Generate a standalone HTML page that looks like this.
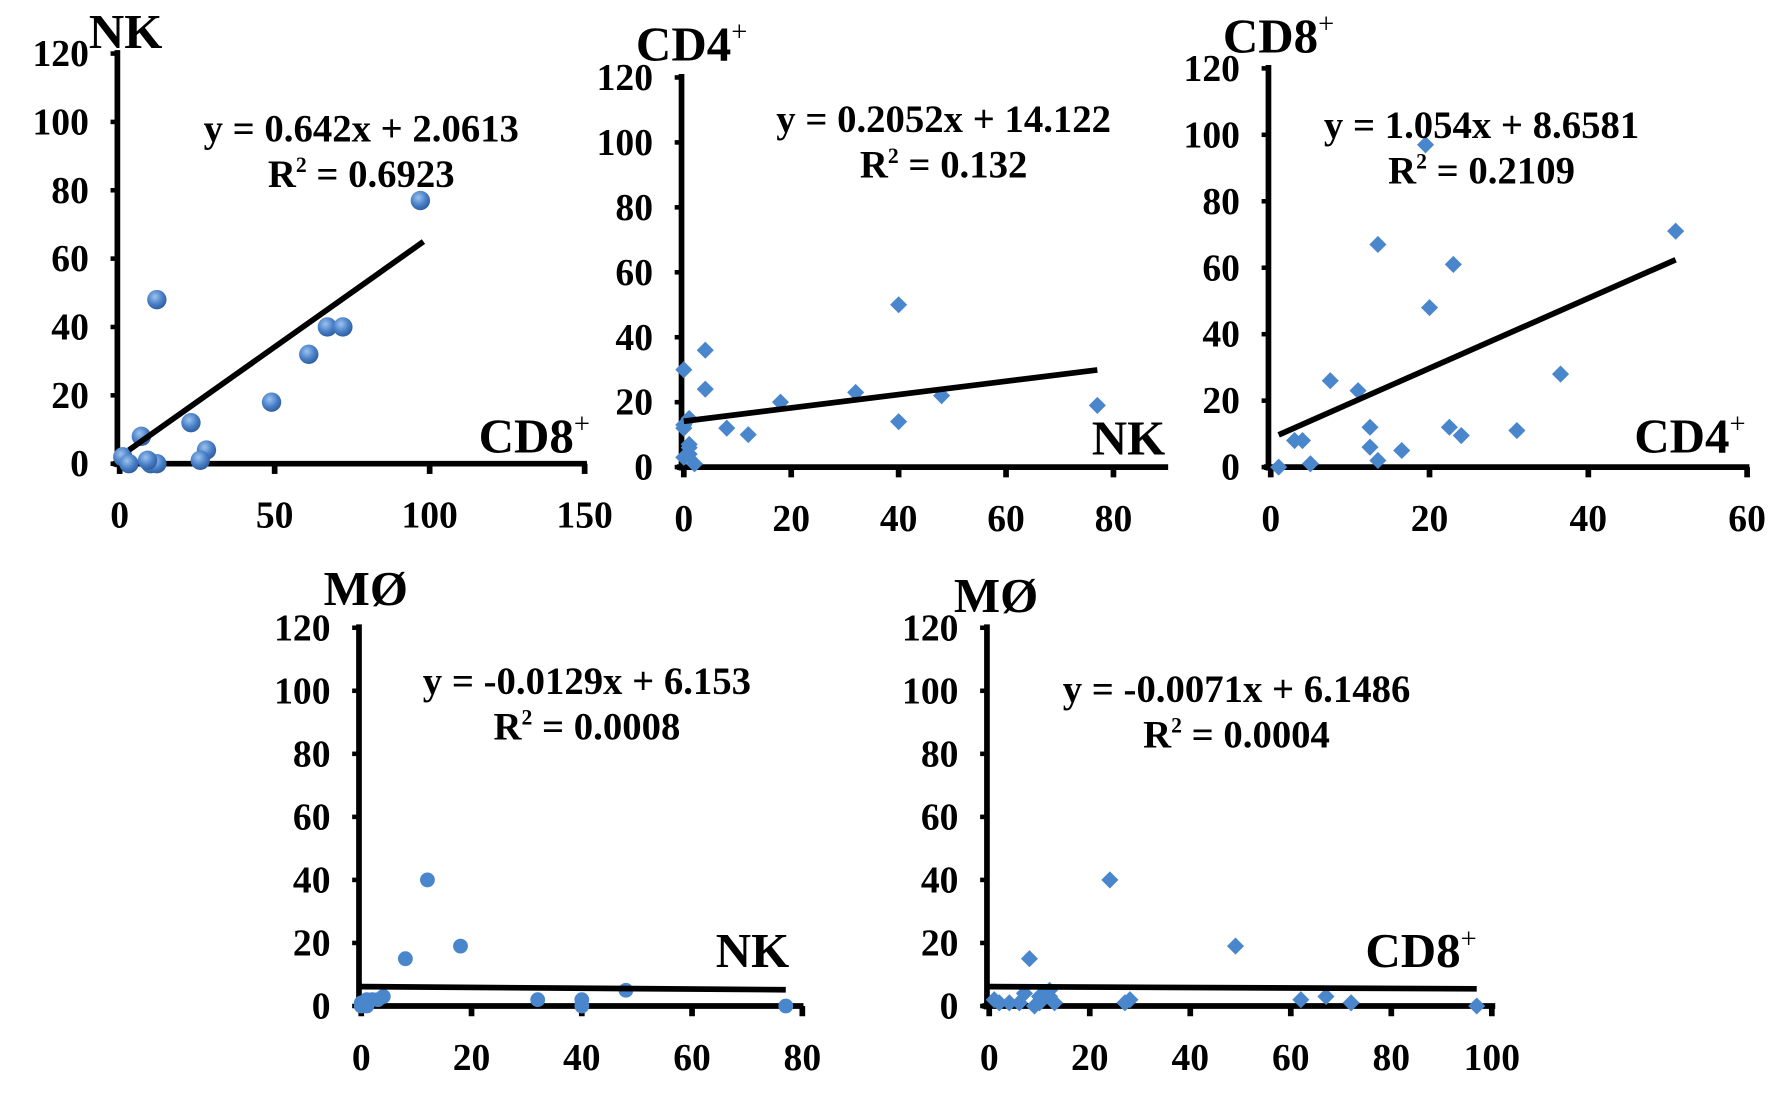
<!DOCTYPE html>
<html><head><meta charset="utf-8"><style>
html,body{margin:0;padding:0;background:#fff;}
svg{display:block;}
text{font-family:"Liberation Serif",serif;font-weight:bold;fill:#000;}
</style></head><body>
<svg id="fig" width="1787" height="1096" viewBox="0 0 1568 962" preserveAspectRatio="none" xmlns="http://www.w3.org/2000/svg">
<defs>
<radialGradient id="ball" cx="40%" cy="35%" r="65%"><stop offset="0" stop-color="#9cc3ee"/><stop offset="0.6" stop-color="#4a80c8"/><stop offset="1" stop-color="#2f5f9f"/></radialGradient>
</defs>
</svg>
<script>
// Panel 1: NK vs CD8+
const p1X=[97,12,67,72,61,49,23,7,28,26,1,3,10,12,9];
const p1Y=[77,48,40,40,32,18,12,8,4,1,2,0,0,0,1];
const p1XTicks=[0,50,100,150];
// Panel 2: CD4+ vs NK
const p2X=[0,4,4,40,0,1,8,12,18,32,40,48,77,0,1,1,2,1,0];
const p2Y=[30,36,24,50,13,15,12,10,20,23,14,22,19,3,6,7,1,4,12];
const p2XTicks=[0,20,40,60,80];
// Panel 3: CD8+ vs CD4+
const p3X=[19.5,13.5,23,20,51,36.5,7.5,11,12.5,22.5,24,31,3,4,12.5,16.5,13.5,1,5];
const p3Y=[97,67,61,48,71,28,26,23,12,12,9.5,11,8,8,6,5,2,0,1];
const p3XTicks=[0,20,40,60];
// Panel 4: MØ vs NK
const p4X=[12,18,8,32,40,48,77,0,1,2,3,4,1,0,40];
const p4Y=[40,19,15,2,2,5,0,1,2,2,2,3,0,0,0];
const p4XTicks=[0,20,40,60,80];
// Panel 5: MØ vs CD8+
const p5X=[24,49,8,1,2,4,6,9,10,10,12,13,27,28,62,67,72,97,12,7];
const p5Y=[40,19,15,2,1,1,1,0,1,3,3,1,1,2,2,3,1,0,5,4];
const p5XTicks=[0,20,40,60,80,100];
const yTicks=[0,20,40,60,80,100,120];
const slopes=[0.642,0.2052,1.054,-0.0129,-0.0071];
const intercepts=[2.0613,14.122,8.6581,6.153,6.1486];
const fitRange=[[3,98],[0,77],[1,51],[0,77],[0,97]];

const NS="http://www.w3.org/2000/svg";
const svg=document.getElementById('fig');
function mk(tag,attrs,parent){const e=document.createElementNS(NS,tag);for(const k in attrs)e.setAttribute(k,attrs[k]);(parent||svg).appendChild(e);return e;}

const panels=[
 {name:'nk-vs-cd8',xs:p1X,ys:p1Y,xt:p1XTicks,x0:105,x1:513,xmax:150,y0:407,y1:47,axEnd:515,marker:'circle',
  ytitle:'NK',ytx:78,yty:42,ysup:false,xtitle:'CD8',xtx:420,xty:397,xsup:true,eq1:'y = 0.642x + 2.0613',eq2:'0.6923',ex:317,ey:124},
 {name:'cd4-vs-nk',xs:p2X,ys:p2Y,xt:p2XTicks,x0:600,x1:977,xmax:80,y0:410,y1:68,axEnd:1025,marker:'diamond',
  ytitle:'CD4',ytx:558,yty:53,ysup:true,xtitle:'NK',xtx:958,xty:399,xsup:false,eq1:'y = 0.2052x + 14.122',eq2:'0.132',ex:828,ey:116},
 {name:'cd8-vs-cd4',xs:p3X,ys:p3Y,xt:p3XTicks,x0:1115,x1:1533,xmax:60,y0:410,y1:60,axEnd:1535,marker:'diamond',
  ytitle:'CD8',ytx:1073,yty:46,ysup:true,xtitle:'CD4',xtx:1434,xty:397,xsup:true,eq1:'y = 1.054x + 8.6581',eq2:'0.2109',ex:1300,ey:121},
 {name:'mo-vs-nk',xs:p4X,ys:p4Y,xt:p4XTicks,x0:317,x1:704,xmax:80,y0:883,y1:551,axEnd:705,marker:'circle',
  ytitle:'MØ',ytx:284,yty:531,ysup:false,xtitle:'NK',xtx:628,xty:849,xsup:false,eq1:'y = -0.0129x + 6.153',eq2:'0.0008',ex:515,ey:609},
 {name:'mo-vs-cd8',xs:p5X,ys:p5Y,xt:p5XTicks,x0:868,x1:1309,xmax:100,y0:883,y1:551,axEnd:1312,marker:'diamond',
  ytitle:'MØ',ytx:837,yty:537,ysup:false,xtitle:'CD8',xtx:1198,xty:849,xsup:true,eq1:'y = -0.0071x + 6.1486',eq2:'0.0004',ex:1085,ey:616}
];

panels.forEach((p,i)=>{
  const g=mk('g',{});
  
  
  const sx=v=>p.x0+(v/p.xmax)*(p.x1-p.x0);
  const sy=v=>p.y0-(v/120)*(p.y0-p.y1);
  const ya=mk('line',{x1:p.x0-2,y1:p.y1-3,x2:p.x0-2,y2:p.y0+3,stroke:'#000','stroke-width':5},g);
  
  
  const xa=mk('line',{x1:p.x0-6,y1:p.y0,x2:p.axEnd,y2:p.y0,stroke:'#000','stroke-width':5},g);
  
  
  yTicks.forEach(t=>{
    const y=sy(t);
    mk('line',{x1:p.x0-8,y1:y,x2:p.x0,y2:y,stroke:'#000','stroke-width':4},g);
    const tx=mk('text',{x:p.x0-27,y:y+11,'text-anchor':'end','font-size':33},g);
    tx.textContent=t;
    
    
  });
  p.xt.forEach(t=>{
    const x=sx(t);
    mk('line',{x1:x,y1:p.y0,x2:x,y2:p.y0+9,stroke:'#000','stroke-width':5},g);
    const tx=mk('text',{x:x,y:p.y0+56,'text-anchor':'middle','font-size':33},g);
    tx.textContent=t;
    
    
  });
  p.xs.forEach((xv,j)=>{
    const cx=sx(xv),cy=sy(p.ys[j]);
    let m;
    if(p.marker==='circle'){
      m=mk('circle',{cx:cx,cy:cy,r:(i===0?8.5:6.5),fill:(i===0?'url(#ball)':'#4a86cc')},g);
    }else{
      const r=7.5;
      m=mk('polygon',{points:`${cx},${cy-r} ${cx+r},${cy} ${cx},${cy+r} ${cx-r},${cy}`,fill:'#4a86cc'},g);
    }
    
    
  });
  const [a,b]=fitRange[i];
  const tl=mk('line',{x1:sx(a),y1:sy(slopes[i]*a+intercepts[i]),x2:sx(b),y2:sy(slopes[i]*b+intercepts[i]),stroke:'#000','stroke-width':5},g);
  
  
  const yt=mk('text',{x:p.ytx,y:p.yty,'font-size':43},g);
  yt.textContent=p.ytitle;
  if(p.ysup){const s=mk('tspan',{dy:-17,'font-size':25,'font-weight':'normal'},yt);s.textContent='+';}
  
  
  const xtl=mk('text',{x:p.xtx,y:p.xty,'font-size':43},g);
  xtl.textContent=p.xtitle;
  if(p.xsup){const s=mk('tspan',{dy:-17,'font-size':25,'font-weight':'normal'},xtl);s.textContent='+';}
  
  
  const e1=mk('text',{x:p.ex,y:p.ey,'text-anchor':'middle','font-size':34},g);
  e1.textContent=p.eq1;
  
  
  const e2=mk('text',{x:p.ex,y:p.ey+40,'text-anchor':'middle','font-size':34},g);
  e2.textContent='R';
  const s2=mk('tspan',{dy:-13,'font-size':19},e2);s2.textContent='2';
  const s3=mk('tspan',{dy:13},e2);s3.textContent=' = '+p.eq2;
  
  
});
</script>
</body></html>
